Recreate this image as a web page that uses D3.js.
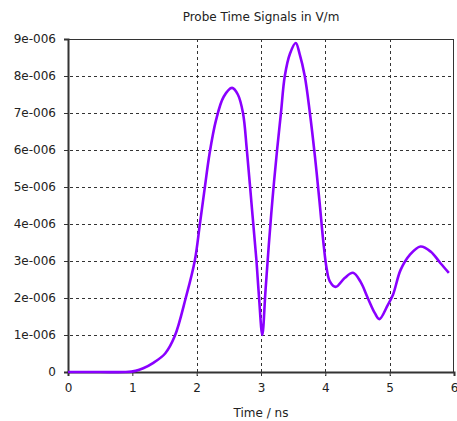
<!DOCTYPE html>
<html>
<head>
<meta charset="utf-8">
<script src="https://cdn.jsdelivr.net/npm/d3@7"></script>
<style>
  body { margin: 0; background: #fff; }
  text { font-family: "DejaVu Sans", sans-serif; fill: #222; }
  .grid line { stroke: #333; stroke-dasharray: 3,3; stroke-width: 1; }
</style>
</head>
<body>
<svg width="457" height="421"></svg>
<script>

var svg = d3.select("svg"),
    margin = {left: 68, right: 3, top: 39, bottom: 49},
    width = +svg.attr("width") - margin.left - margin.right,
    height = +svg.attr("height") - margin.top - margin.bottom;

// probe signal, time in ns, value in 1e-6 V/m
var time = [0, 0.5, 0.9, 1.05, 1.17, 1.32, 1.51, 1.66, 1.83, 1.97, 2.05, 2.12, 2.2, 2.3, 2.42, 2.55,
            2.64, 2.72, 2.78, 2.86, 2.93, 2.97, 3.02, 3.07, 3.12, 3.18, 3.25, 3.31, 3.37, 3.45, 3.54, 3.60,
            3.68, 3.76, 3.84, 3.91, 3.97, 4.02, 4.07, 4.16, 4.30, 4.43, 4.55, 4.66, 4.77, 4.84,
            4.97, 5.05, 5.17, 5.31, 5.48, 5.64, 5.79, 5.92];
var signal = [0, 0, 0, 0.03, 0.1, 0.24, 0.5, 0.97, 2.0, 3.0, 4.0, 4.9, 5.9, 6.8, 7.44, 7.68,
              7.5, 7.0, 6.0, 4.4, 3.0, 2.0, 1.0, 2.2, 3.4, 4.7, 6.0, 7.0, 8.0, 8.6, 8.89, 8.6,
              8.0, 7.0, 5.8, 4.6, 3.5, 2.8, 2.45, 2.3, 2.54, 2.68, 2.43, 2.0, 1.59, 1.43,
              1.81, 2.08, 2.76, 3.16, 3.39, 3.25, 2.94, 2.68];

var xTicks = [0, 1, 2, 3, 4, 5, 6];
var xGrid = [2, 3, 4, 5];
var yTicks = [0, 1, 2, 3, 4, 5, 6, 7, 8, 9];
var yLabels = ["0", "1e-006", "2e-006", "3e-006", "4e-006", "5e-006", "6e-006", "7e-006", "8e-006", "9e-006"];

var x = d3.scaleLinear().domain([0, 6]).range([0, width]);
var y = d3.scaleLinear().domain([0, 9]).range([height, 0]);

var g = svg.append("g").attr("transform", "translate(" + margin.left + "," + margin.top + ")");

// grid
var grid = g.append("g").attr("class", "grid");
grid.selectAll(".hg").data(yTicks.slice(1, -1)).enter().append("line")
    .attr("x1", -4).attr("x2", width)
    .attr("y1", function (d) { return y(d) + 0.5; })
    .attr("y2", function (d) { return y(d) + 0.5; });
grid.selectAll(".vg").data(xGrid).enter().append("line")
    .attr("y1", 0).attr("y2", height + 4)
    .attr("x1", function (d) { return Math.round(x(d)) + 0.5; })
    .attr("x2", function (d) { return Math.round(x(d)) + 0.5; });

// frame
g.append("rect")
    .attr("x", 0.5).attr("y", 0.5)
    .attr("width", width - 1).attr("height", height)
    .attr("fill", "none").attr("stroke", "#333").attr("stroke-width", 1);

// axes
var xAxis = g.append("g")
    .attr("transform", "translate(0," + height + ")")
    .call(d3.axisBottom(x).tickValues(xTicks).tickSize(4).tickPadding(7).tickFormat(d3.format("d")));
var yAxis = g.append("g")
    .call(d3.axisLeft(y).tickValues(yTicks).tickSize(4).tickPadding(8)
        .tickFormat(function (d, i) { return yLabels[i]; }));
[xAxis, yAxis].forEach(function (a) {
    a.select(".domain").attr("stroke", "#333").attr("stroke-width", 2);
    a.selectAll(".tick line").attr("stroke", "#333");
    a.selectAll("text").style("font-size", "12px").style("font-family", "DejaVu Sans, sans-serif").attr("fill", "#222");
});

// signal line
var line = d3.line()
    .x(function (d, i) { return x(time[i]); })
    .y(function (d) { return y(d); })
    .curve(d3.curveCatmullRom.alpha(0.5));

g.append("path")
    .datum(signal)
    .attr("d", line)
    .attr("fill", "none")
    .attr("stroke", "#8a00ff")
    .attr("stroke-width", 2.6)
    .attr("stroke-linejoin", "round");

// title and label
svg.append("text")
    .attr("x", margin.left + width / 2).attr("y", 21)
    .attr("text-anchor", "middle").style("font-size", "12px")
    .text("Probe Time Signals in V/m");
svg.append("text")
    .attr("x", margin.left + width / 2).attr("y", 417)
    .attr("text-anchor", "middle").style("font-size", "12px")
    .text("Time / ns");

</script>
</body>
</html>
